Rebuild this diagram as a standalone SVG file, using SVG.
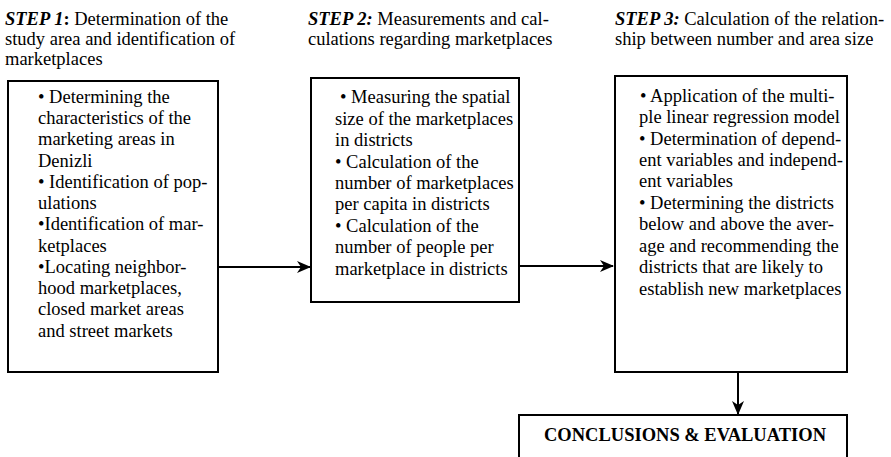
<svg xmlns="http://www.w3.org/2000/svg" width="891" height="457" viewBox="0 0 891 457">
<style>
text{font-family:"Liberation Serif","Times New Roman",serif;font-size:18.5px;fill:#000}
.b{font-weight:bold}
.bi{font-weight:bold;font-style:italic}
.box{fill:#fff;stroke:#000;stroke-width:2}
.con{stroke:#000;stroke-width:2;fill:none}
</style>
<defs>
<marker id="ah" markerWidth="14" markerHeight="12" refX="13" refY="6" orient="auto" markerUnits="userSpaceOnUse">
<path d="M0,0 L14,6 L0,12 L4,6 Z" fill="#000"/>
</marker>
</defs>
<g id="headers">
<text x="5" y="25"><tspan class="bi">STEP 1</tspan><tspan class="b">:</tspan> Determination of the</text>
<text x="5" y="45">study area and identification of</text>
<text x="5" y="65">marketplaces</text>
<text x="308" y="25"><tspan class="bi">STEP 2:</tspan> Measurements and cal-</text>
<text x="308" y="45">culations regarding marketplaces</text>
<text x="615" y="25"><tspan class="bi">STEP 3:</tspan> Calculation of the relation-</text>
<text x="615" y="45">ship between number and area size</text>
</g>
<g id="connectors">
<line class="con" x1="218" y1="267" x2="310" y2="267" marker-end="url(#ah)"/>
<line class="con" x1="520" y1="266" x2="613" y2="266" marker-end="url(#ah)"/>
<line class="con" x1="738" y1="373" x2="738" y2="414" marker-end="url(#ah)"/>
</g>
<g id="step1">
<rect class="box" x="8" y="81" width="210" height="291"/>
<text x="38" y="103">• Determining the</text>
<text x="38" y="124">characteristics of the</text>
<text x="38" y="145">marketing areas in</text>
<text x="38" y="167">Denizli</text>
<text x="38" y="188">• Identification of pop-</text>
<text x="38" y="209">ulations</text>
<text x="38" y="230">•Identification of mar-</text>
<text x="38" y="252">ketplaces</text>
<text x="38" y="273">•Locating neighbor-</text>
<text x="38" y="294">hood marketplaces,</text>
<text x="38" y="315">closed market areas</text>
<text x="38" y="337">and street markets</text>
</g>
<g id="step2">
<rect class="box" x="311" y="78" width="208" height="224"/>
<text x="340" y="103">• Measuring the spatial</text>
<text x="335" y="125">size of the marketplaces</text>
<text x="335" y="146">in districts</text>
<text x="335" y="168">• Calculation of the</text>
<text x="335" y="189">number of marketplaces</text>
<text x="335" y="210">per capita in districts</text>
<text x="335" y="232">• Calculation of the</text>
<text x="335" y="253">number of people per</text>
<text x="335" y="275">marketplace in districts</text>
</g>
<g id="step3">
<rect class="box" x="615" y="76" width="232" height="296"/>
<text x="640" y="102">• Application of the multi-</text>
<text x="639" y="123">ple linear regression model</text>
<text x="639" y="145">• Determination of depend-</text>
<text x="639" y="166">ent variables and independ-</text>
<text x="639" y="187">ent variables</text>
<text x="639" y="209">• Determining the districts</text>
<text x="639" y="230">below and above the aver-</text>
<text x="639" y="252">age and recommending the</text>
<text x="639" y="273">districts that are likely to</text>
<text x="639" y="295">establish new marketplaces</text>
</g>
<g id="conclusions">
<rect class="box" x="519" y="415" width="328" height="60"/>
<text class="b" x="685" y="441" text-anchor="middle">CONCLUSIONS &amp; EVALUATION</text>
</g>
</svg>
